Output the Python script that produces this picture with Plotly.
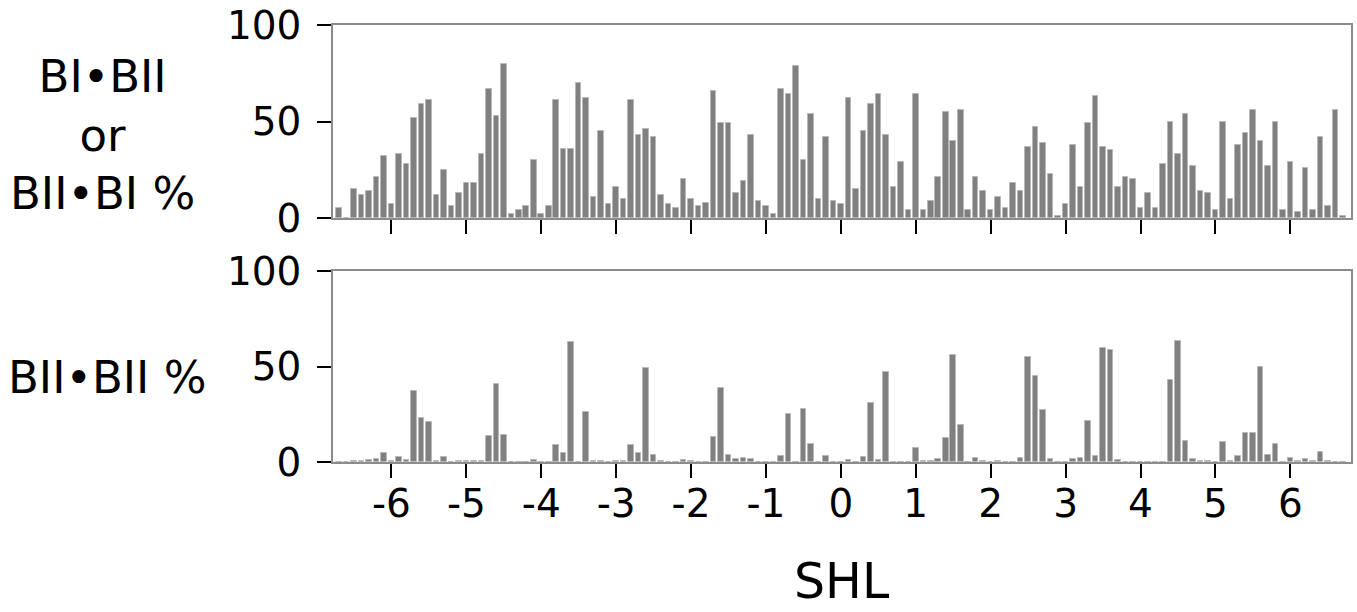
import plotly.graph_objects as go
from plotly.subplots import make_subplots

# SHL positions, -6.7 .. 6.7 in steps of 0.1
shl = [round(i / 10, 1) for i in range(-67, 68)]

# top panel: BI-BII or BII-BI %
mixed_pct = [
    5, 0, 15, 12, 14, 21, 32, 7, 33, 28,            # -6.7 .. -5.8
    52, 59, 61, 12, 25, 6, 13, 18, 18, 33,          # -5.7 .. -4.8
    67, 53, 80, 2, 4, 6, 30, 2, 6, 61,              # -4.7 .. -3.8
    36, 36, 70, 62, 11, 45, 7, 16, 10, 61,          # -3.7 .. -2.8
    43, 46, 42, 12, 7, 5, 20, 10, 6, 8,             # -2.7 .. -1.8
    66, 49, 49, 13, 19, 43, 9, 6, 2, 67,            # -1.7 .. -0.8
    64, 79, 30, 54, 10, 42, 9, 7, 62, 15,           # -0.7 .. 0.2
    45, 59, 64, 43, 16, 29, 4, 64, 4, 9,            # 0.3 .. 1.2
    21, 55, 40, 56, 4, 21, 14, 4, 11, 5,            # 1.3 .. 2.2
    18, 14, 37, 47, 39, 23, 1, 7, 38, 16,           # 2.3 .. 3.2
    49, 63, 37, 35, 16, 21, 20, 5, 13, 5,           # 3.3 .. 4.2
    28, 50, 33, 54, 27, 14, 13, 4, 50, 10,          # 4.3 .. 5.2
    38, 44, 56, 40, 27, 50, 4, 29, 3, 26,           # 5.3 .. 6.2
    4, 42, 6, 56, 1,                                # 6.3 .. 6.7
]

# bottom panel: BII-BII %
bii_pct = [
    0, 0, 0.5, 0.5, 1, 1.6, 4.7, 0.3, 2.8, 1,       # -6.7 .. -5.8
    37, 23, 21, 0.3, 2.6, 0, 0.3, 0.3, 0.3, 0.3,    # -5.7 .. -4.8
    13.5, 41, 14, 0, 0, 0, 0.9, 0, 0, 9,            # -4.7 .. -3.8
    4.6, 63, 0.2, 26, 0.3, 0.3, 0, 0.3, 0.3, 9,     # -3.7 .. -2.8
    4.7, 49, 3.9, 0.3, 0, 0, 0.9, 0.3, 0, 0,        # -2.7 .. -1.8
    13, 39, 3.9, 1.4, 2, 1.4, 0, 0, 0, 3.3,         # -1.7 .. -0.8
    25, 0, 28, 9.6, 0, 3.3, 0, 0, 0.9, 0,           # -0.7 .. 0.2
    2.6, 31, 0.9, 47, 0, 0, 0, 7.2, 0.3, 0.3,       # 0.3 .. 1.2
    1.4, 12.5, 56, 19.3, 0, 2, 0.3, 0, 0.3, 0,      # 1.3 .. 2.2
    0, 2, 55, 45, 27, 1.6, 0, 0, 1.6, 2,            # 2.3 .. 3.2
    21.4, 3.3, 59.6, 58.4, 0.9, 0, 0, 0, 0, 0,      # 3.3 .. 4.2
    0, 43, 63.3, 11, 1.4, 0.3, 0.3, 0, 10.4, 0.3,   # 4.3 .. 5.2
    3.3, 15, 15, 50, 3.9, 9.6, 0, 2, 0.3, 1.4,      # 5.3 .. 6.2
    0.3, 5, 0.3, 0, 0,                              # 6.3 .. 6.7
]

x_ticks = [-6, -5, -4, -3, -2, -1, 0, 1, 2, 3, 4, 5, 6]
x_tick_text = [str(v) for v in x_ticks]  # plain hyphen, as in the figure
y_ticks = [0, 50, 100]

FONT = "DejaVu Sans"
BAR = "#808080"
W, H = 1357, 612

fig = make_subplots(rows=2, cols=1)

for row, vals in ((1, mixed_pct), (2, bii_pct)):
    fig.add_trace(go.Bar(
        x=shl, y=vals, width=0.074,
        marker=dict(color=BAR, line=dict(color="#b8b8b8", width=1)),
        showlegend=False, hoverinfo="x+y",
    ), row=row, col=1)

axis_common = dict(
    showline=True, mirror=True, linecolor="#8c8c8c", linewidth=1.5,
    showgrid=False, zeroline=False, automargin=False,
    ticks="outside", ticklen=14, tickwidth=2, tickcolor="black",
    tickfont=dict(family=FONT, size=39, color="black"),
)

fig.update_xaxes(axis_common, range=[-6.78, 6.81], tickvals=x_ticks,
                 ticktext=x_tick_text, ticklabelstandoff=-8)
fig.update_xaxes(showticklabels=False, row=1, col=1)
fig.update_yaxes(axis_common, range=[0, 100], tickvals=y_ticks,
                 ticklabelstandoff=8)


def label(text, px, py, size):
    # position given in pixels of the 1357x612 page
    return dict(text=text, x=px / W, y=1 - py / H, xref="paper", yref="paper",
                xanchor="center", yanchor="middle", showarrow=False,
                align="center", font=dict(family=FONT, size=size, color="black"))


fig.update_layout(
    template="none",
    width=W, height=H,
    margin=dict(l=0, r=0, t=0, b=0, autoexpand=False),
    paper_bgcolor="white", plot_bgcolor="white",
    bargap=0,
    xaxis=dict(domain=[333 / W, 1351 / W], anchor="y"),
    yaxis=dict(domain=[1 - 218 / H, 1 - 25 / H], anchor="x"),
    xaxis2=dict(domain=[333 / W, 1351 / W], anchor="y2"),
    yaxis2=dict(domain=[1 - 462 / H, 1 - 271 / H], anchor="x2"),
    annotations=[
        label("BI•BII<br>or<br>BII•BI %", 102, 135, 45),
        label("BII•BII %", 107, 377, 45),
        label("SHL", 842, 581, 49),
    ],
)

# the page body has an 8px default margin; drop it so the figure fills the window
fig.write_html("out.html",
               config={"displayModeBar": False},
               post_script="document.body.style.margin='0';"
                           "document.body.style.overflow='hidden';")
